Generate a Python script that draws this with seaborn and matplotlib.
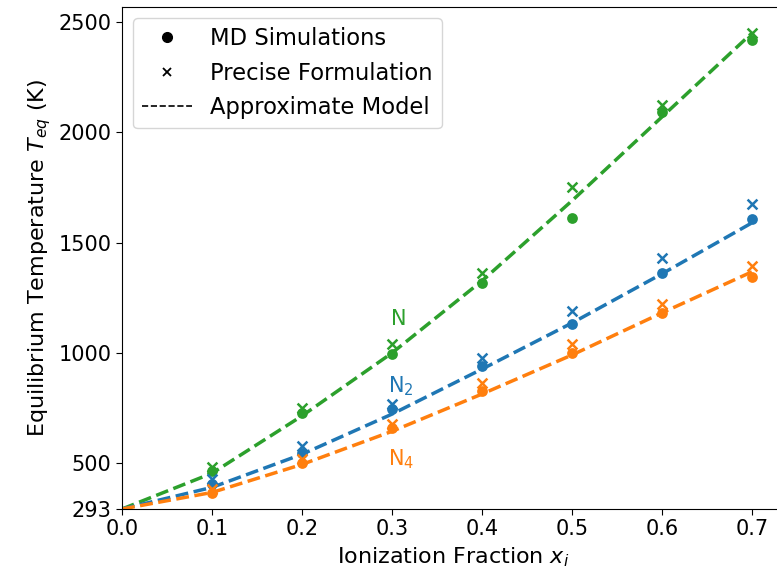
import numpy as np
import pandas as pd
import matplotlib
matplotlib.use("Agg")
import matplotlib.pyplot as plt
import seaborn as sns
from matplotlib.lines import Line2D

sns.set_style("ticks")
plt.rcParams['font.family'] = ['DejaVu Sans']
plt.rcParams['text.color'] = 'black'
plt.rcParams['axes.labelcolor'] = 'black'
plt.rcParams['xtick.color'] = 'black'
plt.rcParams['ytick.color'] = 'black'
plt.rcParams['axes.edgecolor'] = 'black'

x_vals = [0.1, 0.2, 0.3, 0.4, 0.5, 0.6, 0.7]
x_model = [0.0, 0.1, 0.2, 0.3, 0.4, 0.5, 0.6, 0.7]

species = ["N", "N$_2$", "N$_4$"]
colors = ["#2ca02c", "#1f77b4", "#ff7f0e"]

md_N = [464, 727, 995, 1318, 1614, 2090, 2418]
md_N2 = [405, 545, 745, 941, 1132, 1364, 1609]
md_N4 = [364, 500, 659, 827, 1000, 1182, 1345]

pf_N = [484, 750, 1040, 1364, 1752, 2123, 2450]
pf_N2 = [427, 577, 768, 977, 1191, 1432, 1677]
pf_N4 = [382, 518, 680, 864, 1041, 1223, 1395]

am_N = [293, 455, 715, 1000, 1327, 1690, 2070, 2450]
am_N2 = [293, 391, 541, 723, 927, 1136, 1359, 1590]
am_N4 = [293, 368, 495, 645, 814, 991, 1182, 1368]

label_pos_x = [0.308, 0.31, 0.31]
label_pos_y = [1155, 850, 518]

md = [md_N, md_N2, md_N4]
pf = [pf_N, pf_N2, pf_N4]
am = [am_N, am_N2, am_N4]

fig = plt.figure(figsize=(7.77, 5.77), dpi=100)
ax = fig.add_axes([122/777, 68/577, 661.5/777, 502/577])

for i, sp in enumerate(species):
    df_m = pd.DataFrame({"x": x_model, "T": am[i]})
    sns.lineplot(data=df_m, x="x", y="T", ax=ax, color=colors[i],
                 linestyle="--", linewidth=2.5, zorder=2)
    df_md = pd.DataFrame({"x": x_vals, "T": md[i]})
    sns.scatterplot(data=df_md, x="x", y="T", ax=ax, color=colors[i],
                    marker="o", s=60, edgecolor=colors[i], linewidth=0, zorder=3)
    df_pf = pd.DataFrame({"x": x_vals, "T": pf[i]})
    sns.scatterplot(data=df_pf, x="x", y="T", ax=ax, color=colors[i],
                    marker="x", s=50, linewidth=1.8, zorder=3)
    ax.text(label_pos_x[i], label_pos_y[i], sp, color=colors[i],
            fontsize=15, ha="center", va="center")

ax.set_xlim(0, 0.735)
ax.set_ylim(293, 2568)
ax.spines['right'].set_visible(False)
ax.set_xticks([0.0, 0.1, 0.2, 0.3, 0.4, 0.5, 0.6, 0.7])
ax.set_xticklabels(["0.0", "0.1", "0.2", "0.3", "0.4", "0.5", "0.6", "0.7"])
ax.set_yticks([293, 500, 1000, 1500, 2000, 2500])
ax.tick_params(labelsize=15, length=4)
ax.set_xlabel("Ionization Fraction $x_i$", fontsize=16)
ax.set_ylabel("Equilibrium Temperature $T_{eq}$ (K)", fontsize=16)

handles = [
    Line2D([], [], color="black", marker="o", linestyle="none", markersize=7),
    Line2D([], [], color="black", marker="x", linestyle="none", markersize=6, markeredgewidth=1.3),
    Line2D([], [], color="black", linestyle="--", linewidth=1.2),
]
ax.legend(handles, ["MD Simulations", "Precise Formulation", "Approximate Model"],
          loc="upper left", fontsize=16.3, frameon=True, borderaxespad=0.5,
          handlelength=2.2)

fig.savefig("out.png", dpi=100)
